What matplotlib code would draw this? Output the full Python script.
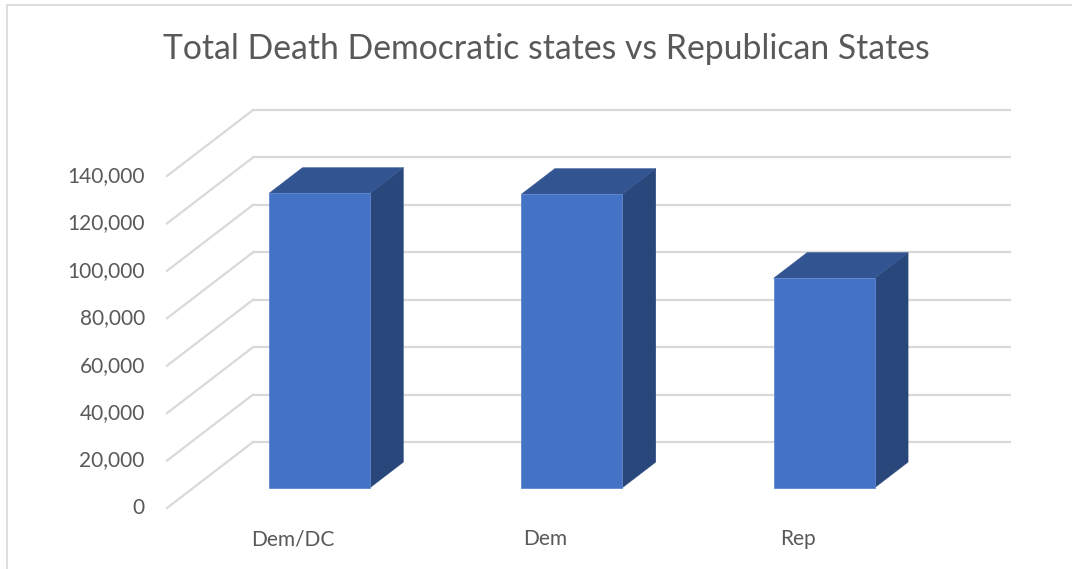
import numpy as np
import matplotlib
matplotlib.use("Agg")
import matplotlib.pyplot as plt
from matplotlib.patches import Polygon

categories = ["Dem/DC", "Dem", "Rep"]
deaths = [124200, 123800, 88400]
ticks = [0, 20000, 40000, 60000, 80000, 100000, 120000, 140000]
title = "Total Death Democratic states vs Republican States"

# oblique 3d look: depth offset of the back wall in data units
depth_dx = 0.341
depth_dy = 27831
bar_w = 0.4
d_front, d_back = 0.305, 0.695

front_c = "#4472C4"
top_c = "#325592"
side_c = "#2A477C"
grid_c = "#D9D9D9"
text_c = "#595959"

plt.rcParams["font.family"] = ["Lato", "DejaVu Sans"]

fig = plt.figure(figsize=(10.72, 5.69), dpi=100)
ax = fig.add_axes([0, 0, 1, 1])
# pixel mapping: x=0 -> 167px, x=3 -> 924px; y=0 -> 508px, y=140k -> 176px
sx = 757 / 3
sy = 332 / 140000
ax.set_xlim(-167 / sx, (1072 - 167) / sx)
ax.set_ylim(-(569 - 508) / sy, 508 / sy)
ax.axis("off")

# back wall gridlines and the diagonal side lines
for t in ticks:
    ax.plot([depth_dx, 3 + depth_dx], [t + depth_dy, t + depth_dy], color=grid_c, lw=1.6, zorder=1)
    ax.plot([0, depth_dx], [t, t + depth_dy], color=grid_c, lw=1.6, zorder=1)
    ax.annotate(f"{t:,}", (0, t), xytext=(-16, 0), textcoords="offset points",
                ha="right", va="center", fontsize=15, color=text_c)

for i, v in enumerate(deaths):
    x0 = i + 0.5 - bar_w / 2 + d_front * depth_dx
    x1 = x0 + bar_w
    y0 = d_front * depth_dy
    ddx = (d_back - d_front) * depth_dx
    ddy = (d_back - d_front) * depth_dy
    front = Polygon([(x0, y0), (x1, y0), (x1, y0 + v), (x0, y0 + v)],
                    closed=True, fc=front_c, ec="#5E88D0", lw=0.6, zorder=3)
    side = Polygon([(x1, y0), (x1 + ddx, y0 + ddy), (x1 + ddx, y0 + ddy + v), (x1, y0 + v)],
                   closed=True, fc=side_c, ec=side_c, lw=0.3, zorder=3)
    top = Polygon([(x0, y0 + v), (x1, y0 + v), (x1 + ddx, y0 + ddy + v), (x0 + ddx, y0 + ddy + v)],
                  closed=True, fc=top_c, ec=top_c, lw=0.3, zorder=3)
    ax.add_patch(side)
    ax.add_patch(top)
    ax.add_patch(front)
    ax.annotate(categories[i], (i + 0.5, 0), xytext=(0, -22.5), textcoords="offset points",
                ha="center", va="center", fontsize=15, color=text_c)

fig.text(546 / 1072, 1 - 49 / 569, title, ha="center", va="center", fontsize=24.3, color=text_c)

# chart area border (only left and top show in the crop)
fig.add_artist(plt.Line2D([7 / 1072, 7 / 1072], [0, 1 - 5 / 569], color=grid_c, lw=1.2))
fig.add_artist(plt.Line2D([7 / 1072, 1], [1 - 5 / 569, 1 - 5 / 569], color=grid_c, lw=1.2))

fig.savefig("out.png", dpi=100, facecolor="white")
